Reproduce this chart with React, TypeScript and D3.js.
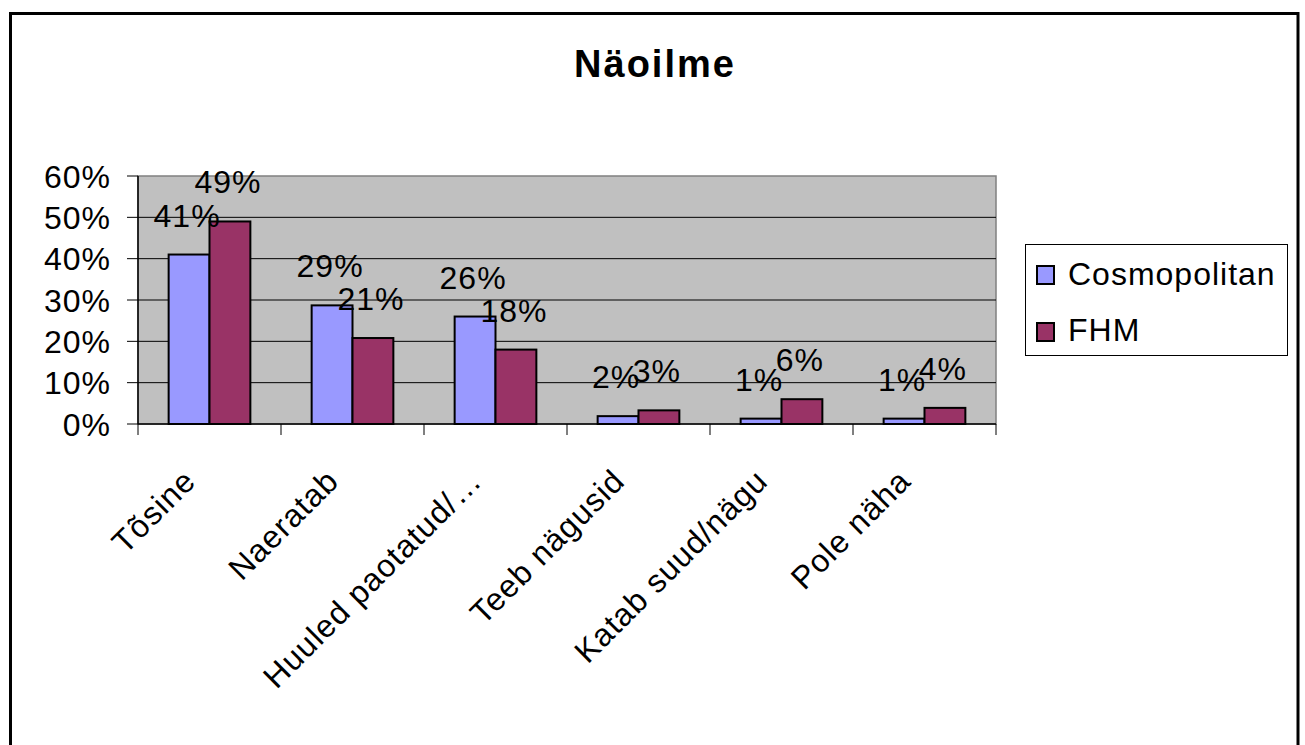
import React from "react";
import * as d3 from "d3";

const title = "Näoilme";
const categories = [
  "Tõsine",
  "Naeratab",
  "Huuled paotatud/…",
  "Teeb nägusid",
  "Katab suud/nägu",
  "Pole näha",
];
const seriesNames = ["Cosmopolitan", "FHM"];
const cosmopolitan = [41, 28.7, 26, 1.9, 1.3, 1.3];
const fhm = [49, 20.8, 18, 3.3, 6, 3.9];
const yTicks = [0, 10, 20, 30, 40, 50, 60];
const colors = ["#9999FF", "#993366"];

const W = 1305;
const H = 745;
const plot = { left: 138, top: 176, right: 996, bottom: 424 };
const FONT = "'Liberation Sans', Arial, Helvetica, sans-serif";

export default function App() {
  const x0 = d3
    .scaleBand<string>()
    .domain(categories)
    .range([plot.left, plot.right])
    .paddingInner(0)
    .paddingOuter(0);
  const bw = x0.bandwidth();
  const barW = bw / 3.5;
  const x1 = d3
    .scaleBand<string>()
    .domain(seriesNames)
    .range([bw * 0.75 / 3.5, bw * 0.75 / 3.5 + 2 * barW]);
  const y = d3.scaleLinear().domain([0, 60]).range([plot.bottom, plot.top]);
  const series = [cosmopolitan, fhm];

  const boundaries = categories.map((c) => x0(c)!).concat([plot.right]);

  return (
    <div style={{ position: "fixed", left: 0, top: 0 }}>
      <svg width={W} height={H} style={{ display: "block" }} fontFamily={FONT}>
        <rect x={0} y={0} width={W} height={H} fill="#ffffff" />
        <rect x={10.5} y={13.5} width={1287.5} height={760} fill="#ffffff" stroke="#000" strokeWidth={3} />
        <text x={655} y={77} textAnchor="middle" fontSize={38} fontWeight="bold" letterSpacing={2}>
          {title}
        </text>
        {/* plot area */}
        <rect
          x={plot.left}
          y={plot.top}
          width={plot.right - plot.left}
          height={plot.bottom - plot.top}
          fill="#C0C0C0"
          stroke="#808080"
          strokeWidth={1.5}
        />
        {yTicks.map((t) => (
          <g key={t}>
            {t > 0 && t < 60 && (
              <line x1={plot.left} x2={plot.right} y1={y(t)} y2={y(t)} stroke="#000" strokeWidth={1} />
            )}
            <line x1={plot.left - 11} x2={plot.left} y1={y(t)} y2={y(t)} stroke="#000" strokeWidth={1} />
            <text x={111} y={y(t) + 11.5} textAnchor="end" fontSize={32} letterSpacing={1}>
              {t + "%"}
            </text>
          </g>
        ))}
        {/* bars */}
        {categories.map((c, i) => (
          <g key={c} transform={`translate(${x0(c)},0)`}>
            {series.map((s, j) => (
              <rect
                key={j}
                x={x1(seriesNames[j])}
                y={y(s[i])}
                width={x1.bandwidth()}
                height={y(0) - y(s[i])}
                fill={colors[j]}
                stroke="#000"
                strokeWidth={2}
              />
            ))}
          </g>
        ))}
        {/* axes */}
        <line x1={plot.left} x2={plot.left} y1={plot.top} y2={plot.bottom} stroke="#000" strokeWidth={1.5} />
        <line x1={plot.left} x2={plot.right} y1={plot.bottom} y2={plot.bottom} stroke="#000" strokeWidth={1.5} />
        {boundaries.map((b, i) => (
          <line key={i} x1={b} x2={b} y1={plot.bottom} y2={plot.bottom + 11} stroke="#000" strokeWidth={1} />
        ))}
        {/* data labels */}
        {categories.map((c, i) => (
          <g key={c + "l"}>
            {series.map((s, j) => (
              <text
                key={j}
                x={x0(c)! + x1(seriesNames[j])! + x1.bandwidth() / 2 - 2}
                y={y(s[i]) - 28}
                textAnchor="middle"
                fontSize={32}
                letterSpacing={1}
              >
                {Math.round(s[i]) + "%"}
              </text>
            ))}
          </g>
        ))}
        {/* category labels */}
        {categories.map((c) => {
          const cx = x0(c)! + bw / 2 - 12;
          const cy = plot.bottom + 59;
          return (
            <text
              key={c + "x"}
              transform={`translate(${cx},${cy}) rotate(-45)`}
              textAnchor="end"
              fontSize={32}
              letterSpacing={1}
            >
              {c}
            </text>
          );
        })}
        {/* legend */}
        <rect x={1025.5} y={244.5} width={262} height={111} fill="#fff" stroke="#000" strokeWidth={1} />
        {seriesNames.map((n, j) => (
          <g key={n}>
            <rect x={1037} y={266 + j * 57} width={17} height={18} fill={colors[j]} stroke="#000" strokeWidth={2} />
            <text x={1068} y={285 + j * 56} fontSize={32} letterSpacing={1}>
              {n}
            </text>
          </g>
        ))}
      </svg>
    </div>
  );
}
